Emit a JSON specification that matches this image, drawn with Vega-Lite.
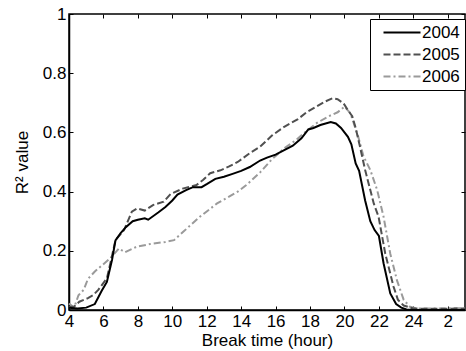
{
  "$schema": "https://vega.github.io/schema/vega-lite/v6.json",
  "width": 396,
  "height": 296,
  "autosize": {"type": "none"},
  "padding": {"left": 69, "top": 14, "right": 1, "bottom": 41},
  "background": "white",
  "config": {
    "font": "Liberation Sans",
    "view": {"stroke": "black", "strokeWidth": 1.5},
    "axis": {
      "grid": false,
      "domainColor": "black",
      "domainWidth": 1.5,
      "tickColor": "black",
      "tickWidth": 1,
      "labelColor": "black",
      "titleColor": "black",
      "labelFont": "Liberation Sans",
      "titleFont": "Liberation Sans",
      "labelFontSize": 17,
      "titleFontSize": 17,
      "titleFontWeight": "normal",
      "labelFlush": false
    }
  },
  "data": {
    "values": [
      {"h": 4.0, "v": 0.008, "year": "2004"},
      {"h": 4.5, "v": 0.005, "year": "2004"},
      {"h": 5.0, "v": 0.008, "year": "2004"},
      {"h": 5.5, "v": 0.02, "year": "2004"},
      {"h": 5.9, "v": 0.065, "year": "2004"},
      {"h": 6.2, "v": 0.095, "year": "2004"},
      {"h": 6.5, "v": 0.17, "year": "2004"},
      {"h": 6.7, "v": 0.235, "year": "2004"},
      {"h": 7.0, "v": 0.26, "year": "2004"},
      {"h": 7.3, "v": 0.28, "year": "2004"},
      {"h": 7.7, "v": 0.3, "year": "2004"},
      {"h": 8.0, "v": 0.305, "year": "2004"},
      {"h": 8.4, "v": 0.31, "year": "2004"},
      {"h": 8.6, "v": 0.305, "year": "2004"},
      {"h": 9.2, "v": 0.33, "year": "2004"},
      {"h": 9.6, "v": 0.348, "year": "2004"},
      {"h": 10.0, "v": 0.37, "year": "2004"},
      {"h": 10.3, "v": 0.39, "year": "2004"},
      {"h": 10.8, "v": 0.405, "year": "2004"},
      {"h": 11.2, "v": 0.415, "year": "2004"},
      {"h": 11.7, "v": 0.415, "year": "2004"},
      {"h": 12.0, "v": 0.425, "year": "2004"},
      {"h": 12.5, "v": 0.443, "year": "2004"},
      {"h": 13.0, "v": 0.45, "year": "2004"},
      {"h": 13.5, "v": 0.46, "year": "2004"},
      {"h": 14.0, "v": 0.47, "year": "2004"},
      {"h": 14.5, "v": 0.483, "year": "2004"},
      {"h": 15.1, "v": 0.505, "year": "2004"},
      {"h": 15.5, "v": 0.515, "year": "2004"},
      {"h": 16.0, "v": 0.525, "year": "2004"},
      {"h": 16.5, "v": 0.54, "year": "2004"},
      {"h": 17.0, "v": 0.555, "year": "2004"},
      {"h": 17.5, "v": 0.58, "year": "2004"},
      {"h": 17.9, "v": 0.61, "year": "2004"},
      {"h": 18.2, "v": 0.615, "year": "2004"},
      {"h": 18.6, "v": 0.625, "year": "2004"},
      {"h": 19.2, "v": 0.635, "year": "2004"},
      {"h": 19.5, "v": 0.63, "year": "2004"},
      {"h": 19.8, "v": 0.615, "year": "2004"},
      {"h": 20.2, "v": 0.585, "year": "2004"},
      {"h": 20.4, "v": 0.56, "year": "2004"},
      {"h": 20.65, "v": 0.495, "year": "2004"},
      {"h": 20.85, "v": 0.47, "year": "2004"},
      {"h": 21.2, "v": 0.37, "year": "2004"},
      {"h": 21.5, "v": 0.3, "year": "2004"},
      {"h": 21.75, "v": 0.27, "year": "2004"},
      {"h": 22.0, "v": 0.25, "year": "2004"},
      {"h": 22.27, "v": 0.158, "year": "2004"},
      {"h": 22.66, "v": 0.056, "year": "2004"},
      {"h": 23.0, "v": 0.02, "year": "2004"},
      {"h": 23.3, "v": 0.008, "year": "2004"},
      {"h": 23.6, "v": 0.002, "year": "2004"},
      {"h": 24.0, "v": 0.0, "year": "2004"},
      {"h": 27.0, "v": 0.0, "year": "2004"},

      {"h": 4.0, "v": 0.01, "year": "2005"},
      {"h": 4.3, "v": 0.012, "year": "2005"},
      {"h": 4.6, "v": 0.028, "year": "2005"},
      {"h": 5.1, "v": 0.04, "year": "2005"},
      {"h": 5.4, "v": 0.05, "year": "2005"},
      {"h": 5.7, "v": 0.068, "year": "2005"},
      {"h": 6.2, "v": 0.107, "year": "2005"},
      {"h": 6.45, "v": 0.17, "year": "2005"},
      {"h": 6.7, "v": 0.236, "year": "2005"},
      {"h": 7.2, "v": 0.27, "year": "2005"},
      {"h": 7.65, "v": 0.332, "year": "2005"},
      {"h": 7.95, "v": 0.343, "year": "2005"},
      {"h": 8.4, "v": 0.336, "year": "2005"},
      {"h": 8.9, "v": 0.355, "year": "2005"},
      {"h": 9.5, "v": 0.366, "year": "2005"},
      {"h": 9.9, "v": 0.392, "year": "2005"},
      {"h": 10.6, "v": 0.41, "year": "2005"},
      {"h": 11.4, "v": 0.422, "year": "2005"},
      {"h": 11.8, "v": 0.44, "year": "2005"},
      {"h": 12.2, "v": 0.462, "year": "2005"},
      {"h": 12.8, "v": 0.472, "year": "2005"},
      {"h": 13.3, "v": 0.485, "year": "2005"},
      {"h": 13.8, "v": 0.5, "year": "2005"},
      {"h": 14.5, "v": 0.53, "year": "2005"},
      {"h": 15.1, "v": 0.552, "year": "2005"},
      {"h": 15.8, "v": 0.59, "year": "2005"},
      {"h": 16.5, "v": 0.619, "year": "2005"},
      {"h": 17.3, "v": 0.645, "year": "2005"},
      {"h": 17.8, "v": 0.668, "year": "2005"},
      {"h": 18.4, "v": 0.688, "year": "2005"},
      {"h": 18.9, "v": 0.705, "year": "2005"},
      {"h": 19.3, "v": 0.715, "year": "2005"},
      {"h": 19.6, "v": 0.712, "year": "2005"},
      {"h": 19.95, "v": 0.698, "year": "2005"},
      {"h": 20.2, "v": 0.675, "year": "2005"},
      {"h": 20.45, "v": 0.655, "year": "2005"},
      {"h": 20.65, "v": 0.615, "year": "2005"},
      {"h": 20.9, "v": 0.552, "year": "2005"},
      {"h": 21.2, "v": 0.473, "year": "2005"},
      {"h": 21.7, "v": 0.36, "year": "2005"},
      {"h": 21.98, "v": 0.315, "year": "2005"},
      {"h": 22.37, "v": 0.19, "year": "2005"},
      {"h": 22.85, "v": 0.079, "year": "2005"},
      {"h": 23.1, "v": 0.035, "year": "2005"},
      {"h": 23.44, "v": 0.015, "year": "2005"},
      {"h": 24.0, "v": 0.005, "year": "2005"},
      {"h": 25.0, "v": 0.004, "year": "2005"},
      {"h": 27.0, "v": 0.005, "year": "2005"},

      {"h": 4.0, "v": 0.022, "year": "2006"},
      {"h": 4.3, "v": 0.008, "year": "2006"},
      {"h": 4.55, "v": 0.05, "year": "2006"},
      {"h": 4.85, "v": 0.068, "year": "2006"},
      {"h": 5.1, "v": 0.105, "year": "2006"},
      {"h": 5.5, "v": 0.13, "year": "2006"},
      {"h": 5.9, "v": 0.15, "year": "2006"},
      {"h": 6.4, "v": 0.175, "year": "2006"},
      {"h": 6.9, "v": 0.208, "year": "2006"},
      {"h": 7.25, "v": 0.195, "year": "2006"},
      {"h": 7.9, "v": 0.213, "year": "2006"},
      {"h": 8.8, "v": 0.224, "year": "2006"},
      {"h": 9.6, "v": 0.23, "year": "2006"},
      {"h": 10.1, "v": 0.236, "year": "2006"},
      {"h": 10.65, "v": 0.265, "year": "2006"},
      {"h": 11.6, "v": 0.315, "year": "2006"},
      {"h": 12.6, "v": 0.36, "year": "2006"},
      {"h": 13.2, "v": 0.38, "year": "2006"},
      {"h": 13.8, "v": 0.4, "year": "2006"},
      {"h": 14.3, "v": 0.422, "year": "2006"},
      {"h": 15.1, "v": 0.465, "year": "2006"},
      {"h": 15.8, "v": 0.51, "year": "2006"},
      {"h": 16.5, "v": 0.546, "year": "2006"},
      {"h": 17.2, "v": 0.575, "year": "2006"},
      {"h": 17.8, "v": 0.605, "year": "2006"},
      {"h": 18.4, "v": 0.632, "year": "2006"},
      {"h": 19.1, "v": 0.655, "year": "2006"},
      {"h": 19.6, "v": 0.668, "year": "2006"},
      {"h": 20.0, "v": 0.687, "year": "2006"},
      {"h": 20.35, "v": 0.664, "year": "2006"},
      {"h": 20.8, "v": 0.585, "year": "2006"},
      {"h": 21.1, "v": 0.52, "year": "2006"},
      {"h": 21.5, "v": 0.473, "year": "2006"},
      {"h": 21.9, "v": 0.405, "year": "2006"},
      {"h": 22.27, "v": 0.315, "year": "2006"},
      {"h": 22.66, "v": 0.19, "year": "2006"},
      {"h": 23.05, "v": 0.1, "year": "2006"},
      {"h": 23.44, "v": 0.034, "year": "2006"},
      {"h": 23.8, "v": 0.011, "year": "2006"},
      {"h": 24.2, "v": 0.005, "year": "2006"},
      {"h": 25.0, "v": 0.005, "year": "2006"},
      {"h": 27.0, "v": 0.006, "year": "2006"}
    ]
  },
  "encoding": {
    "x": {"field": "h", "type": "quantitative", "scale": {"domain": [4, 27], "nice": false, "zero": false}, "axis": null},
    "y": {"field": "v", "type": "quantitative", "scale": {"domain": [0, 1], "nice": false}, "axis": null},
    "color": {"field": "year", "type": "nominal",
              "scale": {"domain": ["2004","2005","2006"], "range": ["#000000","#505050","#9a9a9a"]},
              "legend": {"title": null, "orient": "none", "legendX": 301, "legendY": 5,
                         "strokeColor": "black", "fillColor": "white",
                         "padding": 5, "symbolType": "M0,0H7.4", "symbolSize": 100, "symbolStrokeWidth": 2,
                         "labelFontSize": 17, "labelFont": "Liberation Sans", "labelColor": "black", "labelOffset": 30, "rowPadding": 4,
                         "encode": {"symbols": {"update": {"strokeDash": {"signal": "datum.label === '2005' ? [7,3] : datum.label === '2006' ? [7,3,2,3] : [1,0]"}}}}}}
  },
  "layer": [
    {
      "mark": {"type": "line", "strokeOpacity": 0},
      "encoding": {
        "x": {"field": "h", "type": "quantitative", "scale": {"domain": [4, 27], "nice": false, "zero": false},
              "axis": {"orient": "bottom", "values": [4,6,8,10,12,14,16,18,20,22,24,26], "labelExpr": "datum.value > 24 ? datum.value - 24 : datum.value", "title": "Break time (hour)", "tickSize": -4, "labelPadding": 7, "titlePadding": 3}},
        "y": {"field": "v", "type": "quantitative", "scale": {"domain": [0, 1], "nice": false},
              "axis": {"orient": "left", "values": [0,0.2,0.4,0.6,0.8,1], "format": "~g", "title": "R² value", "tickSize": -4, "labelPadding": 7, "titlePadding": 11}}
      }
    },
    {
      "mark": {"type": "line", "strokeOpacity": 0},
      "encoding": {
        "x": {"field": "h", "type": "quantitative", "scale": {"domain": [4, 27], "nice": false, "zero": false},
              "axis": {"orient": "top", "values": [4,6,8,10,12,14,16,18,20,22,24,26], "labels": false, "title": null, "tickSize": -4, "domain": false}},
        "y": {"field": "v", "type": "quantitative", "scale": {"domain": [0, 1], "nice": false},
              "axis": {"orient": "right", "values": [0,0.2,0.4,0.6,0.8,1], "labels": false, "title": null, "tickSize": -4, "domain": false}}
      }
    },
    {
      "transform": [{"filter": "datum.year === '2006'"}],
      "mark": {"type": "line", "strokeWidth": 2, "strokeDash": [7, 3, 2, 3]}
    },
    {
      "transform": [{"filter": "datum.year === '2005'"}],
      "mark": {"type": "line", "strokeWidth": 2, "strokeDash": [7, 3]}
    },
    {
      "transform": [{"filter": "datum.year === '2004'"}],
      "mark": {"type": "line", "strokeWidth": 2}
    }
  ],
  "resolve": {"axis": {"x": "independent", "y": "independent"}}
}
